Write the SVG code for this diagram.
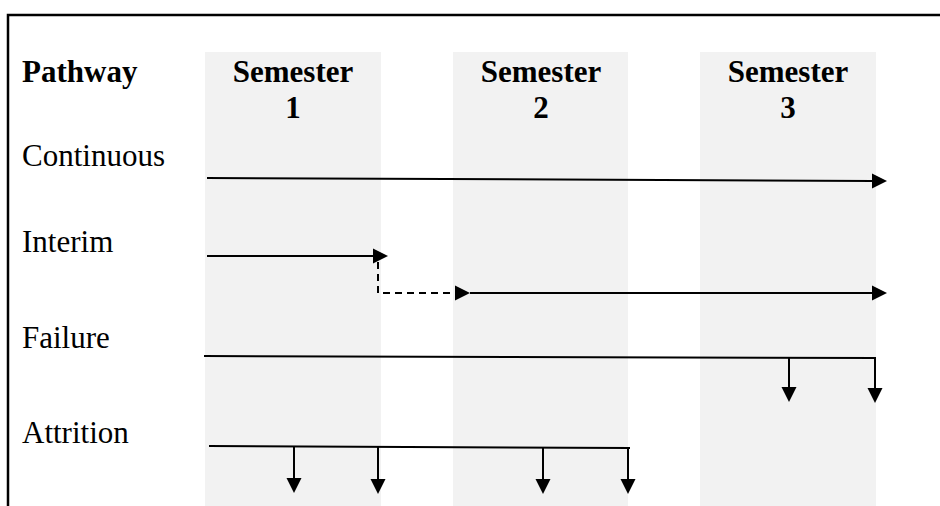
<svg xmlns="http://www.w3.org/2000/svg" width="940" height="506" viewBox="0 0 940 506">
<style>
.col{fill:#f2f2f2}
.hdr{font-weight:bold;font-size:31px;fill:#000}
.lbl{font-size:31px;fill:#000}
.ln{stroke:#000;stroke-width:2;fill:none}
.dash{stroke:#000;stroke-width:2;fill:none;stroke-dasharray:7,5}
.ah{fill:#000}
</style>
<rect width="940" height="506" fill="#fff"/>
<g id="frame">
<path d="M8,506 V15 H940" stroke="#000" stroke-width="2.5" fill="none"/>
</g>
<g font-family="Liberation Serif, Tinos, Times New Roman, DejaVu Serif, serif">
<g id="sem1"><rect class="col" x="205" y="52" width="176" height="454"/><text class="hdr" x="293" y="82" text-anchor="middle">Semester</text><text class="hdr" x="293" y="118" text-anchor="middle">1</text></g>
<g id="sem2"><rect class="col" x="453" y="52" width="175" height="454"/><text class="hdr" x="541" y="82" text-anchor="middle">Semester</text><text class="hdr" x="541" y="118" text-anchor="middle">2</text></g>
<g id="sem3"><rect class="col" x="700" y="52" width="176" height="454"/><text class="hdr" x="788" y="82" text-anchor="middle">Semester</text><text class="hdr" x="788" y="118" text-anchor="middle">3</text></g>
<g id="pathway"><text class="hdr" x="22" y="82">Pathway</text></g>
<g id="continuous"><text class="lbl" x="22" y="166">Continuous</text></g>
<g id="interim"><text class="lbl" x="22" y="252">Interim</text></g>
<g id="failure"><text class="lbl" x="22" y="348">Failure</text></g>
<g id="attrition"><text class="lbl" x="22" y="443">Attrition</text></g>
</g>
<g id="connectors">
<path class="ln" d="M207,178 L873,181"/>
<polygon class="ah" points="887,181 872,173.5 872,188.5"/>
<path class="ln" d="M207,256 H374"/>
<polygon class="ah" points="388,256 373,248.5 373,263.5"/>
<path class="dash" d="M378,262 V293 H456"/>
<polygon class="ah" points="470,293 455,285.5 455,300.5"/>
<path class="ln" d="M470,293 H873"/>
<polygon class="ah" points="887,293 872,285.5 872,300.5"/>
<path class="ln" d="M204,356 L876,358"/>
<path class="ln" d="M789,357 V388"/>
<polygon class="ah" points="789,402 781.5,387 796.5,387"/>
<path class="ln" d="M875,358 V388"/>
<polygon class="ah" points="875,403 867.5,388 882.5,388"/>
<path class="ln" d="M209,446 L630,448"/>
<path class="ln" d="M294,446 V479"/>
<polygon class="ah" points="294,493 286.5,478 301.5,478"/>
<path class="ln" d="M378,447 V480"/>
<polygon class="ah" points="378,494 370.5,479 385.5,479"/>
<path class="ln" d="M543,448 V480"/>
<polygon class="ah" points="543,494 535.5,479 550.5,479"/>
<path class="ln" d="M628,448 V480"/>
<polygon class="ah" points="628,494 620.5,479 635.5,479"/>
</g>
</svg>
